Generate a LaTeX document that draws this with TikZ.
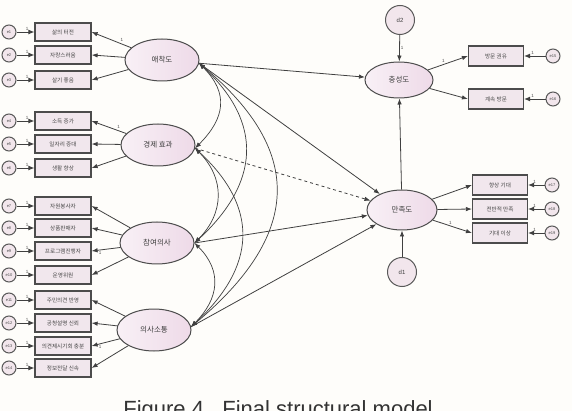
\documentclass[tikz,border=0pt]{standalone}
\usepackage{fontspec}
\newfontfamily\kr{Noto Sans CJK KR}
\setsansfont{Liberation Sans}
\usetikzlibrary{shapes.geometric,arrows.meta}
\definecolor{pinkfill}{HTML}{EEDAE8}
\definecolor{boxfill}{HTML}{F1E7ED}
\definecolor{errfill}{HTML}{F2E6EC}
\definecolor{bgc}{HTML}{FEFDFA}
\tikzset{
 lat/.style={ellipse, draw=black!70, line width=1pt, minimum width=74pt, minimum height=42pt, inner sep=0pt, left color=white!60!pinkfill, right color=pinkfill, font=\kr\fontsize{7.5}{8}\selectfont, text=black!75},
 obs/.style={rectangle, draw=black!70, line width=1.2pt, minimum width=56pt, minimum height=18pt, inner sep=0pt, fill=boxfill, font=\kr\fontsize{5.6}{6}\selectfont, text=black!72},
 err/.style={circle, draw=black!65, line width=1pt, minimum size=14pt, inner sep=0pt, fill=errfill, font=\sffamily\fontsize{4}{4}\selectfont, text=black!70},
 dist/.style={circle, draw=black!65, line width=1pt, minimum size=29pt, inner sep=0pt, fill=errfill, font=\sffamily\fontsize{6}{6}\selectfont, text=black!75},
 pth/.style={draw=black!75, line width=0.8pt, -{Latex[length=6pt,width=4.5pt]}},
 epth/.style={draw=black!75, line width=0.9pt, -{Latex[length=6pt,width=5pt]}},
 cov/.style={draw=black!75, line width=0.7pt, {Latex[length=6pt,width=4.5pt]}-{Latex[length=6pt,width=4.5pt]}},
 one/.style={font=\sffamily\fontsize{4.5}{4.5}\selectfont, text=black!70, inner sep=1pt},
}
\begin{document}
\begin{tikzpicture}[x=1pt,y=-1pt]
\fill[bgc] (0,0) rectangle (572,411);
\useasboundingbox (0,0) rectangle (572,411);

% latent variables
\node[lat] (att) at (162,60) {애착도};
\node[lat] (eco) at (158,145) {경제 효과};
\node[lat] (par) at (157,243) {참여의사};
\node[lat] (com) at (154,330) {의사소통};
\node[lat, minimum width=68pt, minimum height=36pt] (loy) at (399,80) {충성도};
\node[lat, minimum width=70pt, minimum height=40pt] (sat) at (402,210) {만족도};
\node[dist] (d2) at (400,20) {d2};
\node[dist] (d1) at (402,272) {d1};

% left indicators
\foreach \n/\y/\t/\e in {b1/32/삶의 터전/e1, b2/55/자랑스러움/e2, b3/80/살기 좋음/e3,
  b4/121/소득 증가/e4, b5/144/일자리 증대/e5, b6/168/생활 향상/e6,
  b7/206/자원봉사자/e7, b8/228/상품판매자/e8, b9/251/프로그램진행자/e9, b10/275/운영위원/e10,
  b11/300/주민의견 반영/e11, b12/323/공청설명 신뢰/e12, b13/346/의견제시기회 충분/e13, b14/368/정보전달 신속/e14}{
  \node[obs] (\n) at (63,\y) {\t};
  \node[err] (\e) at (9,\y) {\e};
  \draw[epth] (\e) -- node[one, pos=0.6, above] {1} (\n);
}

% right indicators
\node[obs, minimum width=55pt, minimum height=20pt] (r1) at (496,56) {방문 권유};
\node[obs, minimum width=55pt, minimum height=20pt] (r2) at (496,99) {계속 방문};
\node[obs, minimum width=55pt, minimum height=20pt] (r3) at (500,185) {향상 기대};
\node[obs, minimum width=55pt, minimum height=20pt] (r4) at (500,209) {전반적 만족};
\node[obs, minimum width=55pt, minimum height=20pt] (r5) at (500,233) {기대 이상};
\foreach \n/\x/\y/\e in {r1/553/56/e15, r2/553/99/e16, r3/552/185/e17, r4/552/209/e18, r5/552/233/e19}{
  \node[err] (\e) at (\x,\y) {\e};
  \draw[epth] (\e) -- node[one, pos=0.6, above] {1} (\n);
}

% measurement paths
\draw[pth] (att) -- node[one, pos=0.3, above right] {1} (b1.east);
\draw[pth] (att) -- (b2.east);
\draw[pth] (att) -- (b3.east);
\draw[pth] (eco) -- node[one, pos=0.3, above right] {1} (b4.east);
\draw[pth] (eco) -- (b5.east);
\draw[pth] (eco) -- (b6.east);
\draw[pth] (par) -- (b7.east);
\draw[pth] (par) -- (b8.east);
\draw[pth] (par) -- node[one, pos=0.7, below] {1} (b9.east);
\draw[pth] (par) -- (b10.east);
\draw[pth] (com) -- (b11.east);
\draw[pth] (com) -- (b12.east);
\draw[pth] (com) -- node[one, pos=0.7, below] {1} (b13.east);
\draw[pth] (com) -- (b14.east);
\draw[pth] (loy) -- node[one, pos=0.45, above left] {1} (r1.west);
\draw[pth] (loy) -- (r2.west);
\draw[pth] (sat) -- (r3.west);
\draw[pth] (sat) -- (r4.west);
\draw[pth] (sat) -- node[one, pos=0.45, above] {1} (r5.west);

% disturbances
\draw[pth] (d2) -- node[one, pos=0.5, right] {1} (loy);
\draw[pth] (d1) -- (sat);

% structural paths
\draw[pth] (att.-5) -- (loy);
\draw[pth] (att.-5) -- (sat);
\draw[pth, dashed] (eco.-5) -- (sat);
\draw[pth] (par.0) -- (sat);
\draw[pth] (com.5) -- (sat);
\draw[pth] (sat) -- (loy);

% covariances
\draw[cov] (att.-5) .. controls +(30,30) and +(30,-30) .. (eco.-5);
\draw[cov] (eco.-5) .. controls +(30,30) and +(30,-30) .. (par.0);
\draw[cov] (par.0) .. controls +(28,28) and +(28,-28) .. (com.5);
\draw[cov] (att.-5) .. controls +(65,60) and +(65,-60) .. (par.0);
\draw[cov] (eco.-5) .. controls +(65,60) and +(65,-60) .. (com.5);
\draw[cov] (att.-5) .. controls +(108,90) and +(108,-90) .. (com.5);

% caption (cut off at the lower edge, as in the reference)
\node[font=\sffamily\fontsize{22}{22}\selectfont, text=black!80, anchor=base, inner sep=0pt] (cap) at (278,416) {Figure 4.\ \ Final structural model};
\end{tikzpicture}
\end{document}
